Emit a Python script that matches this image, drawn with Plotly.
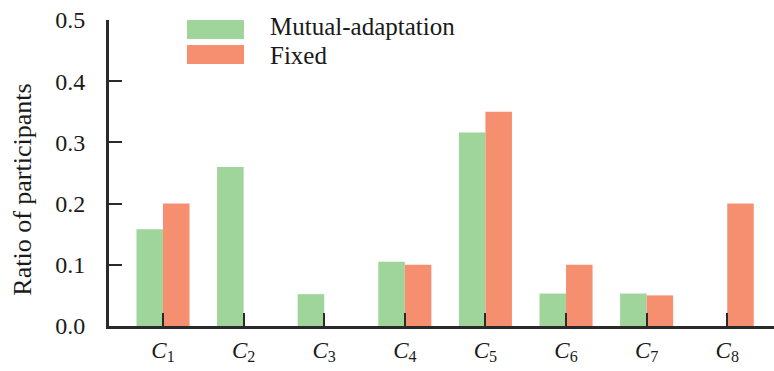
import plotly.graph_objects as go

# Categories and the two conditions' participant ratios
categories = ["C1", "C2", "C3", "C4", "C5", "C6", "C7", "C8"]
tick_labels = ["<i>C</i><sub>%d</sub>" % i for i in range(1, 9)]
mutual_adaptation = [0.158, 0.26, 0.052, 0.105, 0.316, 0.053, 0.053, 0.0]
fixed = [0.20, 0.0, 0.0, 0.10, 0.35, 0.10, 0.05, 0.20]
y_ticks = [0.0, 0.1, 0.2, 0.3, 0.4, 0.5]

GREEN = "#9fd49a"
ORANGE = "#f58f70"
AXIS = "#2a2a2a"
FONT = "Liberation Serif, Times New Roman, serif"

x = list(range(len(categories)))

fig = go.Figure()
fig.add_trace(go.Bar(x=x, y=mutual_adaptation, name="Mutual-adaptation",
                     marker=dict(color=GREEN, line=dict(width=0))))
fig.add_trace(go.Bar(x=x, y=fixed, name="Fixed",
                     marker=dict(color=ORANGE, line=dict(width=0))))

fig.update_layout(
    width=774, height=371,
    margin=dict(l=109, r=0, t=20, b=45),
    paper_bgcolor="white", plot_bgcolor="white",
    barmode="group", bargap=0.342, bargroupgap=0,
    showlegend=False,
    font=dict(family=FONT, color="#1a1a1a", size=23),
)

fig.update_xaxes(
    range=[-0.67, 7.58],
    tickmode="array", tickvals=x, ticktext=tick_labels,
    ticks="inside", ticklen=13, tickwidth=2, tickcolor=AXIS,
    showline=True, linecolor=AXIS, linewidth=3,
    showgrid=False, zeroline=False,
    tickfont=dict(family=FONT, size=23),
    ticklabelstandoff=1,
)
fig.update_yaxes(
    range=[0, 0.5],
    tickmode="array", tickvals=y_ticks,
    ticktext=["%.1f" % v for v in y_ticks],
    ticks="inside", ticklen=13, tickwidth=2, tickcolor=AXIS,
    showline=True, linecolor=AXIS, linewidth=3,
    showgrid=False, zeroline=False,
    tickfont=dict(family=FONT, size=24),
    ticklabelstandoff=16,
)

# Y-axis title
fig.add_annotation(
    text="Ratio of participants", textangle=-90,
    xref="paper", yref="paper", x=-0.13, y=0.444,
    showarrow=False, xanchor="center", yanchor="middle",
    font=dict(family=FONT, size=26),
)

# Legend with wide swatches: (label, colour, swatch bottom, swatch top, text centre)
legend_items = [("Mutual-adaptation", GREEN, 0.938, 1.0, 0.9788),
                ("Fixed", ORANGE, 0.856, 0.918, 0.884)]
for label, color, y0, y1, ty in legend_items:
    fig.add_shape(type="rect", xref="paper", yref="paper",
                  x0=0.1173, x1=0.203, y0=y0, y1=y1,
                  fillcolor=color, line=dict(width=0))
    fig.add_annotation(text=label, xref="paper", yref="paper",
                       x=0.239, y=ty, showarrow=False,
                       xanchor="left", yanchor="middle",
                       font=dict(family=FONT, size=25))

fig.write_html("out.html")
